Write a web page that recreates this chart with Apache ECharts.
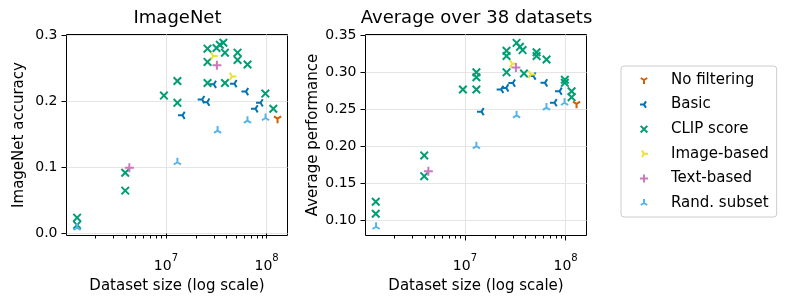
<!DOCTYPE html>
<html><head><meta charset="utf-8">
<script src="https://cdn.jsdelivr.net/npm/echarts@6/dist/echarts.min.js"></script>
<style>html,body{margin:0;padding:0;background:#fff}#c{width:789px;height:298px}</style>
</head><body><div id="c"></div>
<script>
// ---- categories ----
const seriesNames = ['No filtering', 'Basic', 'CLIP score', 'Image-based', 'Text-based', 'Rand. subset'];
const colors = ['#D55E00', '#0173B2', '#029E73', '#ECE133', '#CC78BC', '#56B4E9'];

// ---- dataset sizes (x) ----
const noFilterSize = [1.285e8];
const basicSize = [1.46e7, 2.29e7, 2.57e7, 2.99e7, 4.79e7, 6.24e7, 7.76e7, 8.71e7];
const imageSize = [2.95e7, 4.53e7];
const textSize = [4.33e6, 3.21e7];
const randSize = [1.31e6, 1.30e7, 3.26e7, 6.46e7, 9.77e7];
const clipSizeImageNet = [1.31e6, 1.31e6, 3.94e6, 3.94e6, 9.55e6, 1.30e7, 1.30e7, 2.59e7, 2.59e7, 2.59e7,
  3.18e7, 3.43e7, 3.72e7, 3.86e7, 3.86e7, 5.15e7, 5.15e7, 6.47e7, 9.72e7, 1.167e8];
const clipSizeAvg = [1.30e6, 1.30e6, 3.94e6, 3.94e6, 9.55e6, 1.30e7, 1.30e7, 1.30e7, 2.59e7, 2.59e7, 2.59e7,
  3.26e7, 3.52e7, 3.74e7, 3.86e7, 5.15e7, 5.15e7, 6.47e7, 9.84e7, 9.84e7, 1.148e8, 1.148e8];

// ---- ImageNet accuracy (left panel) ----
const noFilterImageNet = [0.174];
const basicImageNet = [0.179, 0.203, 0.199, 0.226, 0.227, 0.215, 0.189, 0.198];
const clipImageNet = [0.024, 0.013, 0.092, 0.065, 0.209, 0.231, 0.198, 0.280, 0.260, 0.228,
  0.281, 0.286, 0.289, 0.274, 0.228, 0.274, 0.263, 0.256, 0.212, 0.189];
const imageImageNet = [0.269, 0.238];
const textImageNet = [0.0995, 0.255];
const randImageNet = [0.009, 0.108, 0.156, 0.171, 0.175];

// ---- Average over 38 datasets (right panel) ----
const noFilterAvg = [0.2575];
const basicAvg = [0.247, 0.277, 0.279, 0.2855, 0.295, 0.2858, 0.259, 0.2745];
const clipAvg = [0.1255, 0.1093, 0.188, 0.160, 0.2768, 0.300, 0.2934, 0.2768, 0.329, 0.322, 0.300,
  0.3397, 0.3344, 0.330, 0.2984, 0.327, 0.322, 0.3173, 0.290, 0.2858, 0.2745, 0.2665];
const imageAvg = [0.3115, 0.297];
const textAvg = [0.1667, 0.3065];
const randAvg = [0.0918, 0.2004, 0.242, 0.2525, 0.259];

// ---- tick labels ----
const xMajorTicks = [1e7, 1e8];
const xMinorTicks = [2e6, 3e6, 4e6, 5e6, 6e6, 7e6, 8e6, 9e6, 2e7, 3e7, 4e7, 5e7, 6e7, 7e7, 8e7, 9e7];
const yTicksImageNet = [0.0, 0.1, 0.2, 0.3];
const yTicksAvg = [0.10, 0.15, 0.20, 0.25, 0.30, 0.35];

const FONT = 'DejaVu Sans';
const X_MIN = Math.pow(10, 6.012), X_MAX = Math.pow(10, 8.208);

// marker shapes (square bounding box -1..1 kept by zero-length corner segments)
const box = 'M-1,-1 L-1,-1 M1,1 L1,1 ';
const symbols = [
  'path://' + box + 'M0,0 L0,0.5 M0,0 L-0.4,-0.25 M0,0 L0.4,-0.25',   // tri_down
  'path://' + box + 'M0,0 L-0.5,0 M0,0 L0.25,-0.4 M0,0 L0.25,0.4',    // tri_left
  'path://' + box + 'M-0.42,-0.42 L0.42,0.42 M-0.42,0.42 L0.42,-0.42', // x
  'path://' + box + 'M0,0 L0.5,0 M0,0 L-0.25,-0.4 M0,0 L-0.25,0.4',   // tri_right
  'path://' + box + 'M-0.5,0 L0.5,0 M0,-0.5 L0,0.5',                   // plus
  'path://' + box + 'M0,0 L0,-0.5 M0,0 L-0.4,0.25 M0,0 L0.4,0.25'     // tri_up
];

const panels = [
  { sizes: [noFilterSize, basicSize, clipSizeImageNet, imageSize, textSize, randSize],
    vals: [noFilterImageNet, basicImageNet, clipImageNet, imageImageNet, textImageNet, randImageNet] },
  { sizes: [noFilterSize, basicSize, clipSizeAvg, imageSize, textSize, randSize],
    vals: [noFilterAvg, basicAvg, clipAvg, imageAvg, textAvg, randAvg] }
];

const series = [];
panels.forEach((p, g) => {
  seriesNames.forEach((name, i) => {
    series.push({
      type: 'scatter', name, xAxisIndex: g * 2, yAxisIndex: g,
      data: p.sizes[i].map((x, k) => [x, p.vals[i][k]]),
      symbol: symbols[i], symbolSize: 18, symbolKeepAspect: true,
      itemStyle: { color: 'rgba(0,0,0,0)', borderColor: colors[i], borderWidth: 2, opacity: 1 },
      emphasis: { disabled: true }, silent: true
    });
  });
});

const grids = [
  { left: 66.5, top: 34.5, width: 221, height: 201 },
  { left: 365.5, top: 34.5, width: 221, height: 201 }
].map(g => Object.assign(g, { show: true, borderColor: '#000', borderWidth: 1, backgroundColor: 'rgba(0,0,0,0)',
  containLabel: false, outerBoundsMode: 'none' }));

const xAxes = [];
[0, 1].forEach(g => {
  xAxes.push({
    type: 'log', logBase: 10, gridIndex: g, position: 'bottom', min: X_MIN, max: X_MAX,
    axisLine: { show: false },
    axisTick: { show: true, customValues: xMajorTicks, length: 5, lineStyle: { color: '#000', width: 1 } },
    axisLabel: {
      customValues: xMajorTicks, margin: 18,
      formatter: v => '{b|10}{s|' + Math.round(v > 100 ? Math.log10(v) : v) + '}',
      rich: {
        b: { fontSize: 14, fontFamily: FONT, color: '#000', verticalAlign: 'bottom', lineHeight: 20 },
        s: { fontSize: 10, fontFamily: FONT, color: '#000', verticalAlign: 'top', lineHeight: 20 }
      }
    },
    splitLine: { show: true, lineStyle: { color: '#e5e5e5', width: 1 } },
    name: 'Dataset size (log scale)', nameLocation: 'middle', nameGap: 29,
    nameTextStyle: { fontSize: 15, fontFamily: FONT, color: '#000' }
  });
  xAxes.push({
    type: 'log', logBase: 10, gridIndex: g, position: 'bottom', min: X_MIN, max: X_MAX,
    axisLine: { show: false },
    axisTick: { show: true, customValues: xMinorTicks, length: 3, lineStyle: { color: '#000', width: 1 } },
    axisLabel: { show: false }, splitLine: { show: false }
  });
});

const yAxes = [
  { min: -0.003, max: 0.3015, ticks: yTicksImageNet, dec: 1, name: 'ImageNet accuracy', gap: 40 },
  { min: 0.080, max: 0.351, ticks: yTicksAvg, dec: 2, name: 'Average performance', gap: 45 }
].map((a, g) => ({
  type: 'value', gridIndex: g, min: a.min, max: a.max,
  axisLine: { show: false },
  axisTick: { show: true, customValues: a.ticks, length: 5, lineStyle: { color: '#000', width: 1 } },
  axisLabel: { customValues: a.ticks, formatter: v => Number(v).toFixed(a.dec), margin: 9,
    fontSize: 14, fontFamily: FONT, color: '#000' },
  splitLine: { show: true, lineStyle: { color: '#e5e5e5', width: 1 } },
  name: a.name, nameLocation: 'middle', nameGap: a.gap, nameRotate: 90,
  nameTextStyle: { fontSize: 15, fontFamily: FONT, color: '#000' }
}));

const chart = echarts.init(document.getElementById('c'), null, { renderer: 'canvas' });
chart.setOption({
  animation: false,
  backgroundColor: '#fff',
  textStyle: { fontFamily: FONT },
  title: [
    { text: 'ImageNet', left: 177.5, top: 9, textAlign: 'center', padding: 0,
      textStyle: { fontSize: 18, fontWeight: 'normal', color: '#000', fontFamily: FONT } },
    { text: 'Average over 38 datasets', left: 476.5, top: 9, textAlign: 'center', padding: 0,
      textStyle: { fontSize: 18, fontWeight: 'normal', color: '#000', fontFamily: FONT } }
  ],
  legend: {
    orient: 'vertical', left: 621, top: 66, padding: [5, 8, 5, 14],
    itemWidth: 44, itemHeight: 16, itemGap: 6.6, symbolKeepAspect: true,
    backgroundColor: '#fff', borderColor: '#cccccc', borderWidth: 1, borderRadius: 3,
    selectedMode: false,
    textStyle: { fontSize: 15, fontFamily: FONT, color: '#000' },
    data: seriesNames.map((n, i) => ({ name: n, icon: symbols[i] }))
  },
  grid: grids,
  xAxis: xAxes,
  yAxis: yAxes,
  series
});
</script>
</body></html>
